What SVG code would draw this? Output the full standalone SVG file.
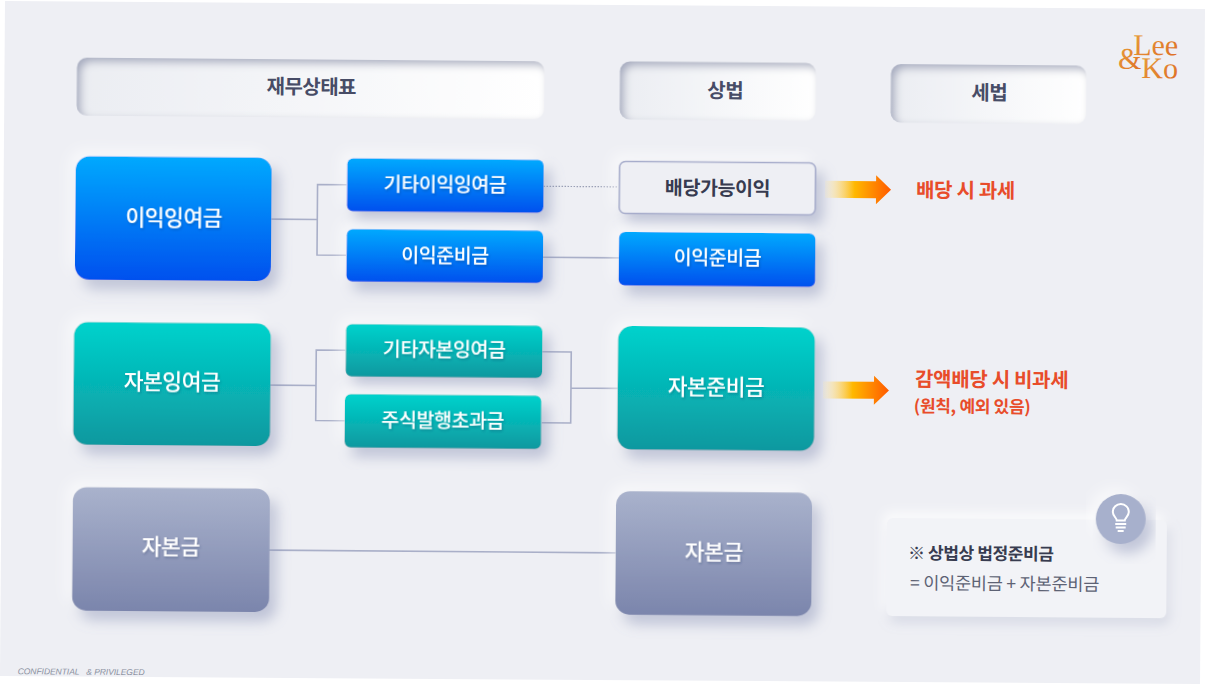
<svg xmlns="http://www.w3.org/2000/svg" width="1207" height="686" viewBox="0 0 1207 686">
<style>
.t{font-family:"Noto Sans CJK KR","Noto Sans",sans-serif;text-anchor:middle}
.w{fill:#fff;font-weight:500;filter:url(#ts)}
.big{font-size:21.500px;letter-spacing:-.5px}
.sm{font-size:19.500px;letter-spacing:-.4px}
.hd{font-size:20px;font-weight:700;fill:#474c66;letter-spacing:-.5px}
.red{fill:#e84c2a;font-weight:700;font-family:"Noto Sans CJK KR",sans-serif;letter-spacing:-.3px}
.c{fill:none;stroke:#a9afc8;stroke-width:1.6}
.logo{font-family:"Liberation Serif",serif;fill:url(#lg);font-size:30px}
</style>
<defs>
<linearGradient id="blue" x1="0" y1="0" x2="0" y2="1"><stop offset="0" stop-color="#00a9fe"/><stop offset="1" stop-color="#0050ee"/></linearGradient>
<linearGradient id="teal" x1="0" y1="0" x2="0" y2="1"><stop offset="0" stop-color="#00d2cc"/><stop offset="1" stop-color="#0c989f"/></linearGradient>
<linearGradient id="gray" x1="0" y1="0" x2="0" y2="1"><stop offset="0" stop-color="#a9b2cc"/><stop offset="1" stop-color="#7b85ac"/></linearGradient>
<linearGradient id="hdg" x1="0" y1="0" x2="1" y2="0"><stop offset="0" stop-color="#ebedf2"/><stop offset="1" stop-color="#ffffff"/></linearGradient>
<linearGradient id="arr" x1="0" y1="0" x2="1" y2="0"><stop offset="0" stop-color="#fde9b0" stop-opacity=".2"/><stop offset=".45" stop-color="#ffb800"/><stop offset="1" stop-color="#ff5a00"/></linearGradient>
<linearGradient id="lg" x1="0" y1="0" x2="1" y2="1"><stop offset="0" stop-color="#e8a23c"/><stop offset="1" stop-color="#dd6a24"/></linearGradient>
<filter id="neu" x="-20%" y="-30%" width="140%" height="170%">
<feGaussianBlur in="SourceAlpha" stdDeviation="7" result="b"/>
<feOffset in="b" dx="7" dy="9" result="o1"/>
<feFlood flood-color="#7f89b0" flood-opacity=".45"/><feComposite in2="o1" operator="in" result="dark"/>
<feOffset in="b" dx="-6" dy="-6" result="o2"/>
<feFlood flood-color="#ffffff" flood-opacity=".6"/><feComposite in2="o2" operator="in" result="light"/>
<feMerge><feMergeNode in="light"/><feMergeNode in="dark"/><feMergeNode in="SourceGraphic"/></feMerge>
</filter>
<filter id="soft" x="-10%" y="-20%" width="120%" height="140%">
<feGaussianBlur in="SourceAlpha" stdDeviation="6" result="b"/>
<feOffset in="b" dx="3" dy="6" result="o1"/>
<feFlood flood-color="#8f98ba" flood-opacity=".28"/><feComposite in2="o1" operator="in" result="dark"/>
<feOffset in="b" dx="-3" dy="-5" result="o2"/>
<feFlood flood-color="#ffffff" flood-opacity=".9"/><feComposite in2="o2" operator="in" result="light"/>
<feMerge><feMergeNode in="light"/><feMergeNode in="dark"/><feMergeNode in="SourceGraphic"/></feMerge>
</filter>
<filter id="ins" x="-10%" y="-20%" width="120%" height="140%">
<feFlood flood-color="#8a91ad" flood-opacity=".8" result="f"/>
<feComposite in="f" in2="SourceAlpha" operator="out" result="inv"/>
<feGaussianBlur in="inv" stdDeviation="4.500"/>
<feOffset dx="4" dy="4" result="s"/>
<feComposite in="s" in2="SourceAlpha" operator="in" result="si"/>
<feMerge><feMergeNode in="SourceGraphic"/><feMergeNode in="si"/></feMerge>
</filter>
<filter id="ts" x="-10%" y="-20%" width="120%" height="150%"><feDropShadow dx="1" dy="1.5" stdDeviation="1.2" flood-color="#1f2c55" flood-opacity=".3"/></filter>
<path id="arrow" d="M0-8.5H51V-14.500L66 0 51 14.500V8.500H0Z" fill="url(#arr)"/>
</defs>
<rect width="1207" height="686" fill="#fff"/>
<polygon points="5,1 1205,9 1200,684 0,676" fill="#eeeff4"/>
<g transform="rotate(.45)">
<g id="connectors">
<path class="c" d="M273 217H319M348 182H319V252.500H348"/>
<path class="c" d="M545 182H620" stroke-dasharray="1.500 1.500" style="stroke:#9aa0b5;stroke-width:1.200"/>
<path class="c" d="M545 253H621"/>
<path class="c" d="M273 383H319M348 347.500H319V418H348"/>
<path class="c" d="M545 347.500H574V418.500H545M574 383.500H621"/>
<path class="c" d="M273 548H620"/>
</g>
<g id="h-bs"><rect x="77.500" y="57" width="467.500" height="58" rx="10" fill="url(#hdg)" filter="url(#ins)"/><text class="t hd" x="312" y="91.500">재무상태표</text></g>
<g id="h-law"><rect x="620.500" y="56.500" width="196" height="58" rx="10" fill="url(#hdg)" filter="url(#ins)"/><text class="t hd" x="726" y="92">상법</text></g>
<g id="h-tax"><rect x="891.500" y="57" width="195.500" height="58.500" rx="10" fill="url(#hdg)" filter="url(#ins)"/><text class="t hd" x="990" y="92">세법</text></g>

<g id="n1"><rect x="77" y="155.500" width="196" height="123.500" rx="14" fill="url(#blue)" filter="url(#neu)"/><text class="t w big" x="175.500" y="224">이익잉여금</text></g>
<g id="n2"><rect x="348.500" y="155.500" width="196.500" height="53" rx="6" fill="url(#blue)" filter="url(#neu)"/><text class="t w sm" x="446.500" y="187.500">기타이익잉여금</text></g>
<g id="n3"><rect x="348.500" y="226.300" width="196.500" height="52.500" rx="6" fill="url(#blue)" filter="url(#neu)"/><text class="t w sm" x="447" y="258.500">이익준비금</text></g>
<g id="n4"><rect x="620.800" y="156.500" width="196" height="52" rx="6" fill="#eeeff4" stroke="#a6accb" stroke-width="1.600" filter="url(#neu)"/><text class="t sm" x="719" y="189.500" style="fill:#373b50;font-weight:700">배당가능이익</text></g>
<g id="n5"><rect x="620.800" y="227" width="196.500" height="53.500" rx="6" fill="url(#blue)" filter="url(#neu)"/><text class="t w sm" x="719.500" y="258.500">이익준비금</text></g>

<g id="n6"><rect x="76.500" y="321.300" width="197" height="122.700" rx="14" fill="url(#teal)" filter="url(#neu)"/><text class="t w big" x="175" y="388">자본잉여금</text></g>
<g id="n7"><rect x="348.500" y="321.300" width="196.500" height="52.500" rx="6" fill="url(#teal)" filter="url(#neu)"/><text class="t w sm" x="447" y="352.500">기타자본잉여금</text></g>
<g id="n8"><rect x="348" y="391.300" width="196.500" height="53.500" rx="6" fill="url(#teal)" filter="url(#neu)"/><text class="t w sm" x="446" y="423.500">주식발행초과금</text></g>
<g id="n9"><rect x="620.600" y="321" width="197" height="123.500" rx="14" fill="url(#teal)" filter="url(#neu)"/><text class="t w big" x="719" y="388.500">자본준비금</text></g>

<g id="n10"><rect x="76.800" y="486.400" width="197" height="123.500" rx="14" fill="url(#gray)" filter="url(#neu)"/><text class="t w big" x="175" y="553">자본금</text></g>
<g id="n11"><rect x="620" y="486.200" width="196" height="123.500" rx="14" fill="url(#gray)" filter="url(#neu)"/><text class="t w big" x="718" y="553.500">자본금</text></g>

<use id="arrow1" href="#arrow" x="826.500" y="182.800"/>
<use id="arrow2" href="#arrow" x="826" y="383.400"/>
<g id="tax1"><text class="red" x="917.500" y="190" font-size="20">배당 시 과세</text></g>
<g id="tax2"><text class="red" x="918" y="379" font-size="20">감액배당 시 비과세</text><text class="red" x="917" y="405" font-size="17">(원칙, 예외 있음)</text></g>

<g id="note"><rect x="891" y="511" width="280" height="98" rx="6" fill="#f2f3f7" filter="url(#soft)"/>
<text x="912.300" y="552" font-size="17" font-weight="700" fill="#383c50" font-family="'Noto Sans CJK KR',sans-serif" letter-spacing="-.4">※ 상법상 법정준비금</text>
<text x="914.500" y="582" font-size="17.500" fill="#5d6274" font-family="'Noto Sans CJK KR',sans-serif" letter-spacing="-.2">= 이익준비금 + 자본준비금</text></g>
<g id="bulb" transform="translate(1124.800 510.200)"><circle r="25" fill="#a7b0cc" filter="url(#neu)"/>
<path d="M-4-1.500C-4-4-8-6-8-10A8 8 0 0 1 8-10C8-6 4-4 4-1.500Z M-5.500 2H5.500M-5 5.500H5M-3 9H3" transform="translate(0 3)" fill="none" stroke="#fff" stroke-width="2"/></g>

<g id="logo"><text class="logo" x="1178.500" y="46" text-anchor="end">Lee</text><text class="logo" x="1178.500" y="69" text-anchor="end">Ko</text><text class="logo" x="1118.500" y="60">&amp;</text></g>
<text x="23" y="674" font-size="8.500" font-style="italic" fill="#8a8fa0" font-family="'Liberation Sans',sans-serif" xml:space="preserve" textLength="127">CONFIDENTIAL   &amp; PRIVILEGED</text>
</g>
</svg>
